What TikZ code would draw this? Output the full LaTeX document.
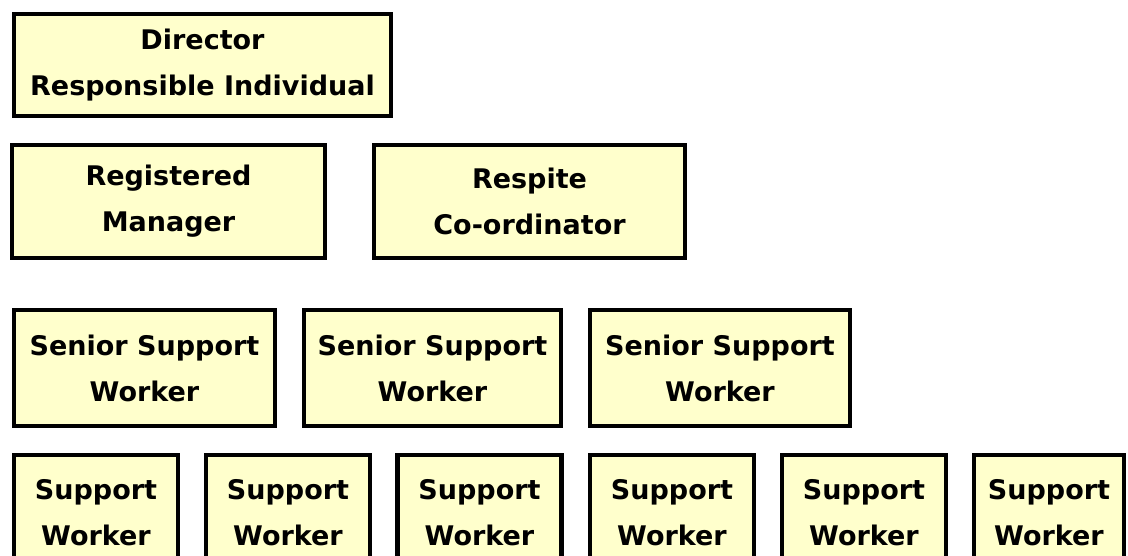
\documentclass[tikz,border=0pt]{standalone}
\usepackage{fontspec}
\setmainfont{DejaVu Sans}
\definecolor{boxfill}{HTML}{FFFFCC}
\begin{document}
\begin{tikzpicture}[x=1pt,y=-1pt,
  box/.style={draw=black, line width=4.5pt, fill=boxfill, inner sep=0pt,
    align=center, font=\bfseries\fontsize{27}{46}\selectfont},
]
\clip (0,0) rectangle (1128,555);
\fill[white] (0,0) rectangle (1128,555);

% management
\node[box, minimum width=377pt, minimum height=102pt] (dir) at (202.5,65)
  {Director\\Responsible Individual};
\node[box, minimum width=313pt, minimum height=113pt] (rm) at (168.5,201.5)
  {Registered\\Manager};
\node[box, minimum width=311pt, minimum height=113pt] (rc) at (529.5,201.5)
  {Respite\\Co-ordinator};

% senior staff
\node[box, minimum width=261pt, minimum height=116pt] (ss1) at (144.5,368)
  {Senior Support\\Worker};
\node[box, minimum width=257pt, minimum height=116pt] (ss2) at (432.5,368)
  {Senior Support\\Worker};
\node[box, minimum width=260pt, minimum height=116pt] (ss3) at (720,368)
  {Senior Support\\Worker};

% support staff
\foreach \i/\cx/\w in {1/96/164, 2/288/164, 3/479.5/164, 4/672/164, 5/864/164, 6/1049/150}
  \node[box, minimum width=\w pt, minimum height=116pt] (sw\i) at (\cx,513)
    {Support\\Worker};
\end{tikzpicture}
\end{document}
